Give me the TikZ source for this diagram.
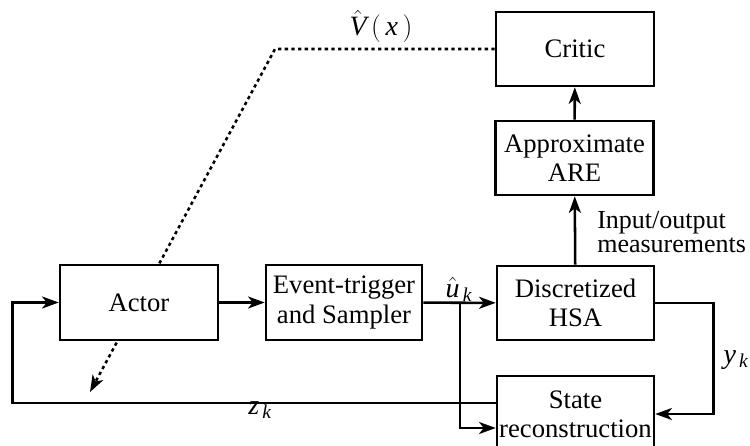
\documentclass[tikz,border=0pt]{standalone}
\usepackage{fontspec}
\setmainfont{Liberation Serif}
\usetikzlibrary{arrows.meta,backgrounds}
\tikzset{every picture/.style={line width=1.9pt}}
\tikzset{blk/.style={draw,line width=1.9pt,fill=white,align=center,inner sep=0.75pt,font=\fontsize{20}{22}\selectfont},
  arr/.style={line width=1.9pt,-{Stealth[length=12.5pt,width=9pt,inset=3.5pt]}},
  lbl/.style={inner sep=0.75pt,font=\fontsize{21}{22}\selectfont}}

\begin{document}
\begin{tikzpicture}[x=0.75pt,y=0.75pt,yscale=-1,xscale=1]
\clip (0,0) rectangle (750,446);

% Blocks
\node [blk,minimum width=118.5pt,minimum height=56pt] (act) at (139,302.5) {Actor};
\node [blk,minimum width=117pt,minimum height=56pt] (evt) at (344,302.5) {Event-trigger\\and Sampler};
\node [blk,minimum width=117.75pt,minimum height=55.5pt] (hsa) at (575.5,303) {Discretized\\HSA};
\node [blk,minimum width=117.75pt,minimum height=57pt] (st) at (575.5,414) {State\\reconstruction};
\node [blk,minimum width=118.5pt,minimum height=55.5pt] (are) at (574.5,158) {Approximate\\ARE};
\node [blk,minimum width=118.5pt,minimum height=55.5pt] (cr) at (575,49) {Critic};

% Text Node
\node [lbl,anchor=south] (vx) at (381,45) {$\hat{\mathit{V}}\,\Bigl(\,\mathit{x}\,\Bigr)$};
\node [lbl] (uk) at (459,289) {$\hat{\mathit{u}}_{\,\mathit{k}}$};
\node [lbl] (yk) at (736,360) {$\mathit{y}_{\,\mathit{k}}$};
\node [lbl] (zk) at (260,410) {$\mathit{z}_{\,\mathit{k}}$};
\node [lbl,anchor=west,align=left,font=\fontsize{19.5}{18}\selectfont] (io) at (595,232) {Input/output\\measurements};

\coordinate (br) at (460,303);

%Straight Lines
\draw [arr] (act) -- (evt);
\draw [arr] (evt) -- (hsa);
\draw [arr] (br) |- ([yshift=10.5pt]st.west);
\draw [arr] (hsa.east) -- ++(58,0) |- (st.east);
\draw [arr] ([yshift=-8.25pt]st.west) -| ([xshift=-34.5pt]act.west) -- (act.west);
\draw [arr] (hsa) -- (are);
\draw [arr] (are) -- (cr);

%Dotted value path
\begin{scope}[on background layer]
\draw [arr,dash pattern=on 2.5pt off 2.5pt] (cr.west) -- (275,49) -- (90,392);
\end{scope}

\end{tikzpicture}
\end{document}
